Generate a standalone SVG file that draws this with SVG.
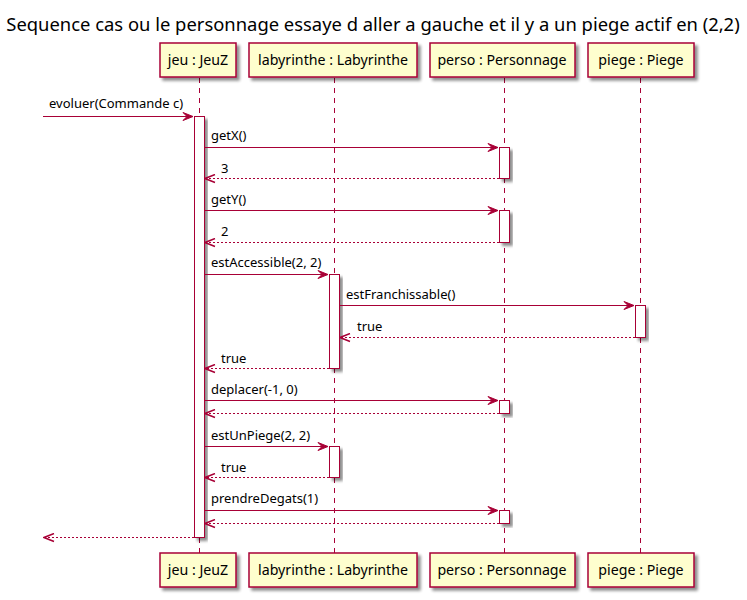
<svg xmlns="http://www.w3.org/2000/svg" width="747" height="600" viewBox="0 0 747 600">
<defs>
<filter id="sh" x="-20%" y="-20%" width="150%" height="150%">
<feGaussianBlur in="SourceAlpha" stdDeviation="1.5"/>
<feOffset dx="3" dy="3" result="o"/>
<feComponentTransfer><feFuncA type="linear" slope="0.45"/></feComponentTransfer>
<feMerge><feMergeNode/><feMergeNode in="SourceGraphic"/></feMerge>
</filter>
<marker id="ah" viewBox="0 0 12 10" refX="11" refY="5" markerWidth="12" markerHeight="10" markerUnits="userSpaceOnUse" orient="auto">
<polygon points="1,1 11,5 1,9 5,5" fill="#A80036" stroke="#A80036" stroke-width="1"/>
</marker>
<marker id="ao" viewBox="0 0 12 10" refX="11" refY="5" markerWidth="12" markerHeight="10" markerUnits="userSpaceOnUse" orient="auto">
<polyline points="1,1 11,5 1,9" fill="none" stroke="#A80036" stroke-width="1.5"/>
</marker>
</defs>
<style>
text{font-family:"Noto Sans","Open Sans","DejaVu Sans",sans-serif;fill:#000}
.title{font-size:18.4px}
.p{fill:#FEFECE;stroke:#A80036;stroke-width:1.5}
.pt{font-size:14.2px;text-anchor:middle}
.life{stroke:#A80036;stroke-width:1;stroke-dasharray:5,5}
.act{fill:#FFFFFF;stroke:#A80036;stroke-width:1}
.m{font-size:13px}
.call{stroke:#A80036;stroke-width:1;fill:none;marker-end:url(#ah)}
.ret{stroke:#A80036;stroke-width:1;stroke-dasharray:2,2;fill:none;marker-end:url(#ao)}
</style>
<rect width="747" height="600" fill="#FFFFFF"/>
<text class="title" x="373" y="31" text-anchor="middle">Sequence cas ou le personnage essaye d aller a gauche et il y a un piege actif en (2,2)</text>

<g id="lifelines">
<line class="life" x1="199.5" y1="78" x2="199.5" y2="553"/>
<line class="life" x1="334.5" y1="78" x2="334.5" y2="553"/>
<line class="life" x1="504.5" y1="78" x2="504.5" y2="553"/>
<line class="life" x1="640.5" y1="78" x2="640.5" y2="553"/>
</g>

<g id="jeu">
<rect class="p" x="160" y="43" width="76" height="34" filter="url(#sh)"/>
<text class="pt" x="198" y="65">jeu : JeuZ</text>
<rect class="p" x="160" y="553" width="76" height="34" filter="url(#sh)"/>
<text class="pt" x="198" y="575">jeu : JeuZ</text>
<rect class="act" x="194.5" y="116.5" width="10" height="421" filter="url(#sh)"/>
</g>

<g id="labyrinthe">
<rect class="p" x="249" y="43" width="168" height="34" filter="url(#sh)"/>
<text class="pt" x="333" y="65">labyrinthe : Labyrinthe</text>
<rect class="p" x="249" y="553" width="168" height="34" filter="url(#sh)"/>
<text class="pt" x="333" y="575">labyrinthe : Labyrinthe</text>
<rect class="act" x="329.5" y="274.5" width="10" height="94" filter="url(#sh)"/>
<rect class="act" x="329.5" y="446.5" width="10" height="31" filter="url(#sh)"/>
</g>

<g id="perso">
<rect class="p" x="430" y="43" width="145" height="34" filter="url(#sh)"/>
<text class="pt" x="502" y="65">perso : Personnage</text>
<rect class="p" x="430" y="553" width="145" height="34" filter="url(#sh)"/>
<text class="pt" x="502" y="575">perso : Personnage</text>
<rect class="act" x="499.5" y="147.5" width="10" height="31" filter="url(#sh)"/>
<rect class="act" x="499.5" y="210.5" width="10" height="32" filter="url(#sh)"/>
<rect class="act" x="499.5" y="400.5" width="10" height="13" filter="url(#sh)"/>
<rect class="act" x="499.5" y="510.5" width="10" height="13" filter="url(#sh)"/>
</g>

<g id="piege">
<rect class="p" x="588" y="43" width="106" height="34" filter="url(#sh)"/>
<text class="pt" x="641" y="65">piege : Piege</text>
<rect class="p" x="588" y="553" width="106" height="34" filter="url(#sh)"/>
<text class="pt" x="641" y="575">piege : Piege</text>
<rect class="act" x="635.5" y="305.5" width="10" height="32" filter="url(#sh)"/>
</g>

<g id="connectors">
<line class="call" x1="43" y1="116.5" x2="193" y2="116.5"/>
<text class="m" x="49" y="108">evoluer(Commande c)</text>

<line class="call" x1="204" y1="147.5" x2="498" y2="147.5"/>
<text class="m" x="211" y="140">getX()</text>
<line class="ret" x1="499" y1="178.5" x2="205" y2="178.5"/>
<text class="m" x="221" y="173">3</text>

<line class="call" x1="204" y1="210.5" x2="498" y2="210.5"/>
<text class="m" x="211" y="204">getY()</text>
<line class="ret" x1="499" y1="242.5" x2="205" y2="242.5"/>
<text class="m" x="221" y="236">2</text>

<line class="call" x1="204" y1="274.5" x2="328" y2="274.5"/>
<text class="m" x="211" y="267">estAccessible(2, 2)</text>

<line class="call" x1="339" y1="305.5" x2="634" y2="305.5"/>
<text class="m" x="346" y="299">estFranchissable()</text>
<line class="ret" x1="635" y1="337.5" x2="340" y2="337.5"/>
<text class="m" x="357" y="331">true</text>

<line class="ret" x1="329" y1="368.5" x2="205" y2="368.5"/>
<text class="m" x="221" y="363">true</text>

<line class="call" x1="204" y1="400.5" x2="498" y2="400.5"/>
<text class="m" x="211" y="394">deplacer(-1, 0)</text>
<line class="ret" x1="499" y1="413.5" x2="205" y2="413.5"/>

<line class="call" x1="204" y1="446.5" x2="328" y2="446.5"/>
<text class="m" x="211" y="440">estUnPiege(2, 2)</text>
<line class="ret" x1="329" y1="477.5" x2="205" y2="477.5"/>
<text class="m" x="221" y="472">true</text>

<line class="call" x1="204" y1="510.5" x2="498" y2="510.5"/>
<text class="m" x="211" y="503">prendreDegats(1)</text>
<line class="ret" x1="499" y1="523.5" x2="205" y2="523.5"/>

<line class="ret" x1="194" y1="537.5" x2="44" y2="537.5"/>
</g>
</svg>
